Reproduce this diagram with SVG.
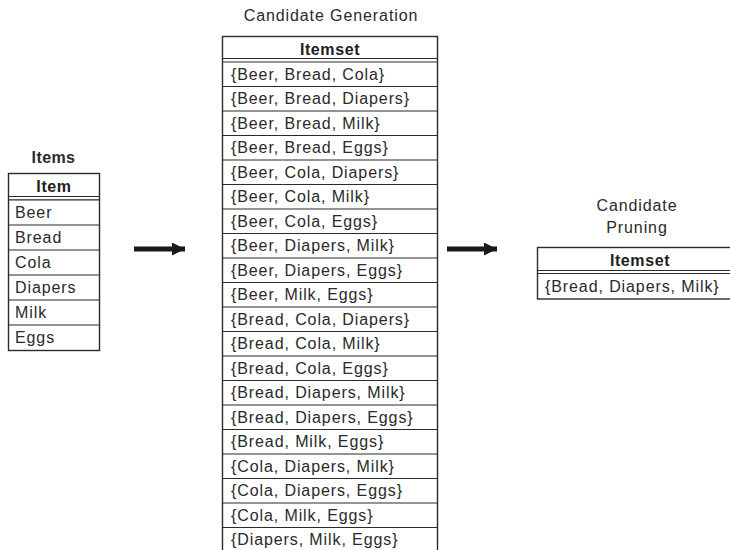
<svg xmlns="http://www.w3.org/2000/svg" width="730" height="550" viewBox="0 0 730 550">
  <style>
    .bg { fill: #ffffff; }
    .box { fill: #ffffff; stroke: #2a2a2a; stroke-width: 1.4; }
    .rule { stroke: #2a2a2a; stroke-width: 1.2; fill: none; }
    .title { font-family: "Liberation Sans", Arial, Helvetica, sans-serif; font-size: 16px; letter-spacing: 0.9px; fill: #2a2a2a; text-anchor: middle; }
    .title.strong { font-weight: bold; letter-spacing: 0.4px; }
    .head { font-family: "Liberation Sans", Arial, Helvetica, sans-serif; font-size: 16px; font-weight: bold; letter-spacing: 0.6px; fill: #1e1e1e; text-anchor: middle; }
    .cell { font-family: "Liberation Sans", Arial, Helvetica, sans-serif; font-size: 16px; letter-spacing: 0.9px; fill: #2a2a2a; }
    .arrow { fill: #1a1a1a; }
  </style>
  <defs>
    <marker id="head" viewBox="0 0 13 13" refX="13" refY="6.5" markerWidth="13" markerHeight="13" markerUnits="userSpaceOnUse" orient="auto">
      <path class="arrow" d="M0,0 L13,6.5 L0,13 Z"/>
    </marker>
  </defs>
  <rect class="bg" x="0" y="0" width="730" height="550"/>

  <!-- Items table -->
  <g id="items">
    <text class="title strong" x="53.5" y="162.5">Items</text>
    <rect class="box" x="8.5" y="173.5" width="91" height="177"/>
    <text class="head" x="54" y="191.5">Item</text>
    <path class="rule" d="M8.5,196.5 H99.5 M8.5,199.8 H99.5 M8.5,225 H99.5 M8.5,250 H99.5 M8.5,275 H99.5 M8.5,300 H99.5 M8.5,325 H99.5"/>
    <text class="cell" x="15" y="218">Beer</text>
    <text class="cell" x="15" y="243">Bread</text>
    <text class="cell" x="15" y="268">Cola</text>
    <text class="cell" x="15" y="293">Diapers</text>
    <text class="cell" x="15" y="318">Milk</text>
    <text class="cell" x="15" y="343">Eggs</text>
  </g>

  <!-- Candidate generation table -->
  <g id="candidate-generation">
    <text class="title" x="331" y="20.5">Candidate Generation</text>
    <rect class="box" x="222.5" y="36.5" width="215" height="520"/>
    <text class="head" x="330" y="54.5">Itemset</text>
    <path class="rule" d="M222.5,58.5 H437.5 M222.5,62 H437.5
      M222.5,86.5 H437.5 M222.5,111 H437.5 M222.5,135.5 H437.5 M222.5,160 H437.5
      M222.5,184.5 H437.5 M222.5,209 H437.5 M222.5,233.5 H437.5 M222.5,258 H437.5
      M222.5,282.5 H437.5 M222.5,307 H437.5 M222.5,331.5 H437.5 M222.5,356 H437.5
      M222.5,380.5 H437.5 M222.5,405 H437.5 M222.5,429.5 H437.5 M222.5,454 H437.5
      M222.5,478.5 H437.5 M222.5,503 H437.5 M222.5,527.5 H437.5"/>
    <text class="cell" x="231" y="79.8">{Beer, Bread, Cola}</text>
    <text class="cell" x="231" y="104.3">{Beer, Bread, Diapers}</text>
    <text class="cell" x="231" y="128.8">{Beer, Bread, Milk}</text>
    <text class="cell" x="231" y="153.3">{Beer, Bread, Eggs}</text>
    <text class="cell" x="231" y="177.8">{Beer, Cola, Diapers}</text>
    <text class="cell" x="231" y="202.3">{Beer, Cola, Milk}</text>
    <text class="cell" x="231" y="226.8">{Beer, Cola, Eggs}</text>
    <text class="cell" x="231" y="251.3">{Beer, Diapers, Milk}</text>
    <text class="cell" x="231" y="275.8">{Beer, Diapers, Eggs}</text>
    <text class="cell" x="231" y="300.3">{Beer, Milk, Eggs}</text>
    <text class="cell" x="231" y="324.8">{Bread, Cola, Diapers}</text>
    <text class="cell" x="231" y="349.3">{Bread, Cola, Milk}</text>
    <text class="cell" x="231" y="373.8">{Bread, Cola, Eggs}</text>
    <text class="cell" x="231" y="398.3">{Bread, Diapers, Milk}</text>
    <text class="cell" x="231" y="422.8">{Bread, Diapers, Eggs}</text>
    <text class="cell" x="231" y="447.3">{Bread, Milk, Eggs}</text>
    <text class="cell" x="231" y="471.8">{Cola, Diapers, Milk}</text>
    <text class="cell" x="231" y="496.3">{Cola, Diapers, Eggs}</text>
    <text class="cell" x="231" y="520.8">{Cola, Milk, Eggs}</text>
    <text class="cell" x="231" y="545.3">{Diapers, Milk, Eggs}</text>
  </g>

  <!-- Candidate pruning table -->
  <g id="candidate-pruning">
    <text class="title" x="637" y="210.5">Candidate</text>
    <text class="title" x="637" y="232.5">Pruning</text>
    <rect class="box" x="537.5" y="247.5" width="210" height="51.5"/>
    <text class="head" x="640" y="265.5">Itemset</text>
    <path class="rule" d="M537.5,270.5 H747 M537.5,273.5 H747"/>
    <text class="cell" x="545" y="291.5">{Bread, Diapers, Milk}</text>
  </g>

  <!-- Connectors -->
  <g id="connectors">
    <line x1="134" y1="249" x2="185" y2="249" stroke="#1a1a1a" stroke-width="5" marker-end="url(#head)"/>
    <line x1="447" y1="249" x2="497" y2="249" stroke="#1a1a1a" stroke-width="5" marker-end="url(#head)"/>
  </g>
</svg>
